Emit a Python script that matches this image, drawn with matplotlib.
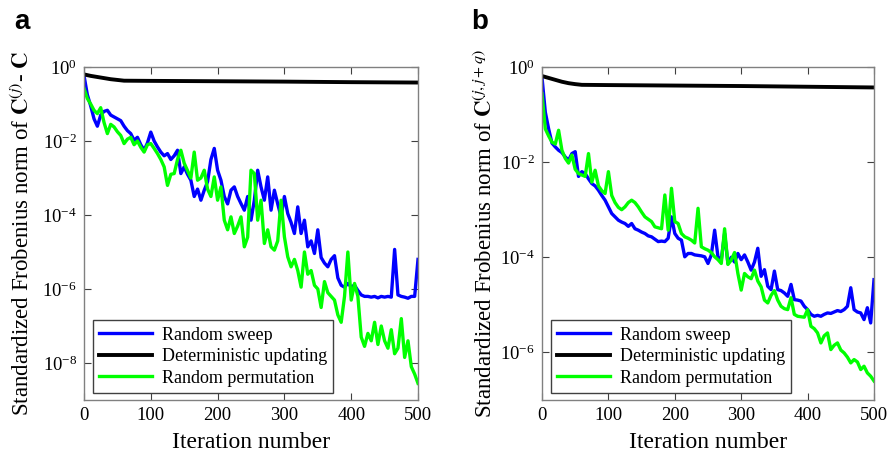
"""Convergence of the standardized Frobenius norm for three updating schemes."""

import matplotlib

matplotlib.use("Agg")
import matplotlib.pyplot as plt
import numpy as np
from matplotlib.ticker import LogFormatterMathtext, NullLocator

# iteration grid used for the noisy series (every 5th iteration)
iterations = list(range(0, 501, 5))

# deterministic updating is smooth, so a handful of read-off points is enough
det_iters = [0, 10, 20, 30, 40, 50, 60, 100, 200, 300, 400, 500]
det_a_log = [-0.20, -0.24, -0.27, -0.30, -0.33, -0.35, -0.37, -0.375, -0.385, -0.395, -0.41, -0.42]
det_b_log = [-0.19, -0.23, -0.27, -0.31, -0.34, -0.36, -0.375, -0.38, -0.39, -0.40, -0.415, -0.43]

# panel a, log10 of the norm
sweep_a_log = [
    -0.23, -0.75, -1.05, -1.4, -1.6, -1.3, -1.2, -1.17, -1.3, -1.35,
    -1.4, -1.45, -1.6, -1.72, -1.8, -1.98, -1.9, -2.1, -2.25, -2.05,
    -1.76, -2.0, -2.16, -2.3, -2.4, -2.34, -2.5, -2.4, -2.25, -2.88,
    -2.7, -2.9, -3.06, -3.5, -3.3, -3.6, -3.33, -3.1, -2.5, -2.2,
    -2.79, -3.06, -3.5, -3.7, -3.33, -3.24, -3.5, -3.69, -3.87, -3.5,
    -4.14, -3.6, -2.79, -3.24, -3.6, -2.97, -3.87, -3.33, -3.7, -4.05,
    -3.5, -3.96, -4.2, -4.5, -3.78, -4.5, -4.14, -4.86, -4.7, -5.04,
    -4.4, -5.15, -5.3, -5.4, -5.2, -5.1, -5.7, -5.9, -5.95, -5.85,
    -5.94, -5.9, -6.04, -6.16, -6.2, -6.2, -6.22, -6.2, -6.24, -6.2,
    -6.22, -6.2, -6.22, -4.93, -6.16, -6.2, -6.22, -6.25, -6.2, -6.2,
    -5.2,
]
perm_a_log = [
    -0.58, -0.85, -1.0, -1.17, -1.26, -1.1, -1.5, -1.8, -1.55, -1.62,
    -1.75, -1.85, -2.07, -1.95, -1.9, -2.1, -2.0, -2.17, -2.3, -2.1,
    -2.07, -2.2, -2.34, -2.5, -2.7, -3.2, -2.9, -2.88, -2.5, -2.25,
    -2.6, -2.8, -3.0, -2.3, -3.06, -3.0, -2.79, -3.3, -3.5, -2.97,
    -3.6, -3.24, -4.14, -4.4, -4.05, -4.5, -4.3, -4.05, -4.86, -4.6,
    -2.79, -2.88, -4.14, -3.6, -4.77, -4.4, -4.86, -4.95, -4.7, -3.6,
    -4.59, -5.13, -5.4, -5.2, -5.5, -5.95, -5.0, -5.6, -5.5, -5.9,
    -6.0, -6.5, -5.8, -6.1, -6.2, -6.3, -6.7, -6.9, -6.2, -5.0,
    -6.3, -5.85, -6.2, -7.3, -7.55, -7.2, -7.4, -6.9, -7.5, -7.0,
    -7.4, -7.6, -7.1, -7.75, -7.6, -6.8, -7.85, -7.4, -8.1, -8.3,
    -8.55,
]

# panel b
sweep_b_log = [
    -0.22, -0.95, -1.3, -1.6, -1.68, -1.75, -1.8, -1.89, -1.96, -1.82,
    -1.78, -2.3, -2.2, -2.24, -2.35, -2.45, -2.5, -2.59, -2.7, -2.8,
    -2.94, -3.08, -3.15, -3.22, -3.26, -3.29, -3.35, -3.29, -3.4, -3.43,
    -3.47, -3.5, -3.55, -3.57, -3.62, -3.67, -3.66, -3.67, -3.6, -3.15,
    -3.5, -3.6, -3.64, -3.99, -3.92, -3.92, -3.95, -3.96, -3.97, -3.99,
    -4.13, -3.95, -3.43, -3.99, -4.05, -3.5, -4.13, -4.0, -4.1, -3.92,
    -4.05, -3.95, -4.1, -4.27, -4.1, -3.81, -4.4, -4.26, -4.61, -4.68,
    -4.29, -4.68, -4.7, -4.75, -4.82, -4.57, -4.89, -4.9, -4.92, -5.03,
    -5.1, -5.2, -5.24, -5.22, -5.24, -5.2, -5.17, -5.18, -5.15, -5.12,
    -5.14, -5.1, -5.03, -4.64, -5.1, -5.15, -5.17, -5.31, -5.06, -5.38,
    -4.47,
]
perm_b_log = [
    -0.56, -1.3, -1.45, -1.58, -1.62, -1.33, -1.75, -1.92, -2.02, -1.85,
    -2.15, -2.24, -2.27, -2.3, -1.82, -2.42, -2.17, -2.5, -2.6, -2.66,
    -2.2, -2.7, -2.85, -2.95, -3.0, -2.94, -2.85, -2.8, -2.85, -2.94,
    -3.05, -3.15, -3.2, -3.25, -3.36, -3.38, -3.4, -2.69, -3.43, -2.55,
    -3.25, -3.29, -3.5, -3.57, -3.6, -3.64, -3.7, -2.97, -3.78, -3.82,
    -3.85, -3.9, -3.99, -4.05, -4.13, -3.4, -4.15, -4.06, -3.9, -4.34,
    -4.69, -4.34, -4.41, -4.45, -4.27, -4.5, -4.62, -4.9, -4.96, -4.8,
    -4.7, -4.9, -5.03, -5.08, -5.1, -4.85, -5.2, -5.24, -5.25, -5.26,
    -5.1, -5.45, -5.5, -5.59, -5.8, -5.65, -5.59, -5.94, -5.85, -5.8,
    -5.95, -6.01, -6.1, -6.22, -6.15, -6.2, -6.36, -6.29, -6.43, -6.5,
    -6.6,
]

series_labels = ["Random sweep", "Deterministic updating", "Random permutation"]
ylabel_a = r"Standardized Frobenius norm of $\mathbf{C}^{(j)}$- $\mathbf{C}$"
ylabel_b = r"Standardized Frobenius norm of $\mathbf{C}^{(j,j+q)}$"

plt.rcParams["font.family"] = ["Liberation Serif", "DejaVu Serif"]
plt.rcParams["mathtext.fontset"] = "stix"


def _panel(fig, rect, sweep_log, det_log, perm_log, ylim, yticks, ylabel, ylabel_x, letter, letter_x):
    ax = fig.add_axes(rect)
    ax.plot(iterations, 10.0 ** np.array(sweep_log), color="#0000ff", lw=2.4, label=series_labels[0])
    ax.plot(det_iters, 10.0 ** np.array(det_log), color="black", lw=2.8, label=series_labels[1])
    ax.plot(iterations, 10.0 ** np.array(perm_log), color="#00ff00", lw=2.4, label=series_labels[2])
    ax.set_yscale("log")
    ax.set_xlim(0, 500)
    ax.set_ylim(*ylim)
    ax.set_xticks([0, 100, 200, 300, 400, 500])
    ax.set_yticks(yticks)
    ax.yaxis.set_major_formatter(LogFormatterMathtext())
    ax.yaxis.set_minor_locator(NullLocator())
    ax.tick_params(direction="in", top=True, right=True, length=5, width=0.8,
                   color="#404040", labelsize=13.5, pad=5)
    for spine in ax.spines.values():
        spine.set_color("#808080")
        spine.set_linewidth(1.0)
    ax.set_xlabel("Iteration number", fontsize=17, labelpad=6)
    fig.text(ylabel_x, rect[1] + rect[3] / 2, ylabel, rotation=90, ha="center", va="center", fontsize=16.5)
    fig.text(letter_x, 1 - 22 / 457, letter, fontsize=20, fontweight="bold",
             family="Liberation Sans", ha="center", va="center")
    leg = ax.legend(loc="lower left", bbox_to_anchor=(0.027, 0.021), borderaxespad=0,
                    fontsize=13, handlelength=2.9, handletextpad=0.55, labelspacing=0.25,
                    borderpad=0.35, fancybox=False, framealpha=1)
    leg.get_frame().set_edgecolor("#404040")
    leg.get_frame().set_linewidth(1.0)
    return ax


def main() -> int:
    fig = plt.figure(figsize=(8.92, 4.57), dpi=100)
    _panel(fig, [84 / 892, 57 / 457, 334 / 892, 333 / 457], sweep_a_log, det_a_log, perm_a_log,
           (1e-9, 1), [1e-8, 1e-6, 1e-4, 1e-2, 1e0], ylabel_a, 22 / 892, "a", 22 / 892)
    _panel(fig, [542 / 892, 57 / 457, 332 / 892, 333 / 457], sweep_b_log, det_b_log, perm_b_log,
           (1e-7, 1), [1e-6, 1e-4, 1e-2, 1e0], ylabel_b, 485 / 892, "b", 480 / 892)
    fig.savefig("out.png", dpi=100)
    plt.close(fig)
    return 0


if __name__ == "__main__":
    raise SystemExit(main())
